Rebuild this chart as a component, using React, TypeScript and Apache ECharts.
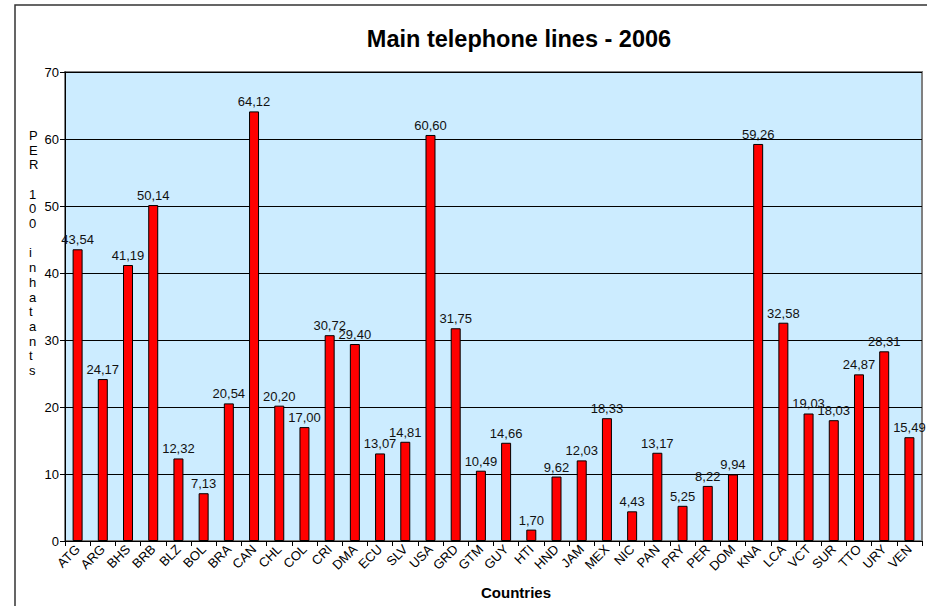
import React, { useEffect, useRef } from "react";
import * as echarts from "echarts";

const countries = [
  "ATG", "ARG", "BHS", "BRB", "BLZ", "BOL", "BRA", "CAN", "CHL", "COL", "CRI", "DMA",
  "ECU", "SLV", "USA", "GRD", "GTM", "GUY", "HTI", "HND", "JAM", "MEX", "NIC", "PAN",
  "PRY", "PER", "DOM", "KNA", "LCA", "VCT", "SUR", "TTO", "URY", "VEN",
];
const lines = [
  43.54, 24.17, 41.19, 50.14, 12.32, 7.13, 20.54, 64.12, 20.2, 17.0, 30.72, 29.4,
  13.07, 14.81, 60.6, 31.75, 10.49, 14.66, 1.7, 9.62, 12.03, 18.33, 4.43, 13.17,
  5.25, 8.22, 9.94, 59.26, 32.58, 19.03, 18.03, 24.87, 28.31, 15.49,
];
const titleText = "Main telephone lines - 2006";
const yAxisTitle = "PER 100 inhatants";
const xAxisTitle = "Countries";

export default function App() {
  const ref = useRef<HTMLDivElement>(null);
  useEffect(() => {
    if (!ref.current) return;
    const chart = echarts.init(ref.current, null, { renderer: "svg" });
    const font = "Liberation Sans, Arial, sans-serif";
    chart.setOption({
      animation: false,
      backgroundColor: "#ffffff",
      textStyle: { fontFamily: font },
      title: {
        text: titleText,
        left: 514,
        top: 22,
        textAlign: "center",
        textStyle: { fontFamily: font, fontSize: 23.5, fontWeight: "bold", color: "#000" },
      },
      graphic: [
        {
          type: "rect",
          shape: { x: 15, y: 5, width: 940, height: 640 },
          style: { fill: "none", stroke: "#333", lineWidth: 1.5 },
          z: 100,
        },
        {
          type: "text",
          left: 29,
          top: 128,
          style: {
            text: yAxisTitle.split("").join("\n"),
            font: `13px ${font}`,
            lineHeight: 14.7,
            fill: "#000",
            align: "center",
          },
        },
        {
          type: "text",
          x: 516,
          y: 592,
          style: {
            text: xAxisTitle,
            font: `bold 15px ${font}`,
            fill: "#000",
            align: "center",
            verticalAlign: "middle",
          },
        },
      ],
      grid: {
        left: 65,
        right: 5,
        top: 72,
        bottom: 65,
        show: true,
        backgroundColor: "#CCECFF",
        borderColor: "#808080",
        borderWidth: 2,
        containLabel: false,
      },
      xAxis: {
        type: "category",
        data: countries,
        axisLine: { lineStyle: { color: "#000", width: 1 } },
        axisTick: { show: true, alignWithLabel: false, length: 5, lineStyle: { color: "#000" } },
        axisLabel: {
          interval: 0,
          rotate: 45,
          fontSize: 13,
          color: "#000",
          fontFamily: font,
          margin: 6,
        },
        splitLine: { show: false },
      },
      yAxis: {
        type: "value",
        min: 0,
        max: 70,
        interval: 10,
        axisLine: { show: true, lineStyle: { color: "#000", width: 1 } },
        axisTick: { show: true, length: 5, lineStyle: { color: "#000" } },
        axisLabel: { fontSize: 13, color: "#000", fontFamily: font, margin: 6 },
        splitLine: { show: true, lineStyle: { color: "#000", width: 1 } },
      },
      series: [
        {
          type: "bar",
          data: lines,
          barWidth: 10,
          itemStyle: { color: "#FF0000", borderColor: "#000", borderWidth: 1 },
          label: {
            show: true,
            position: "top",
            distance: 3,
            fontSize: 13,
            color: "#111",
            fontFamily: font,
            formatter: (p: any) => Number(p.value).toFixed(2).replace(".", ","),
          },
        },
      ],
    });
    return () => chart.dispose();
  }, []);
  return (
    <div
      ref={ref}
      style={{ position: "absolute", left: 0, top: 0, width: 927, height: 606 }}
    />
  );
}
